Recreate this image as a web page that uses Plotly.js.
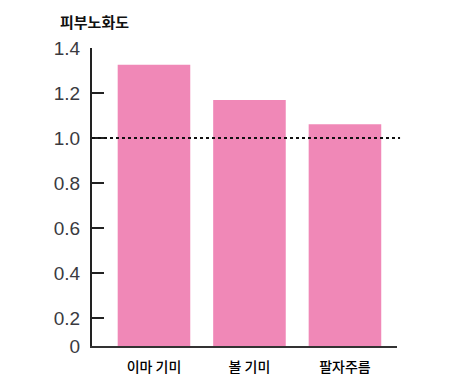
<!DOCTYPE html>
<html><head><meta charset="utf-8">
<script src="https://cdn.plot.ly/plotly-3.0.1.min.js"></script>
<style>html,body{margin:0;padding:0;background:#fff;}#chart{width:460px;height:391px;}</style>
</head><body><div id="chart"></div>
<script>
const categories = ["이마 기미", "볼 기미", "팔자주름"];
const values = [1.326, 1.169, 1.061];
const referenceLevel = 1.0;
const yTickValues = [0.0756, 0.2, 0.4, 0.6, 0.8, 1.0, 1.2, 1.4];
const yTickLabels = ["0", "0.2", "0.4", "0.6", "0.8", "1.0", "1.2", "1.4"];
const yTitle = "피부노화도";

const trace = {
  type: "bar", x: categories, y: values,
  marker: {color: "#f088b7", line: {width: 0}},
  width: 0.76, hoverinfo: "skip"
};
const layout = {
  width: 460, height: 391,
  margin: {l: 92, r: 63, t: 48, b: 45},
  paper_bgcolor: "#fff", plot_bgcolor: "#fff",
  showlegend: false,
  xaxis: {
    type: "category", range: [-0.649, 2.545],
    showline: true, linecolor: "#333", linewidth: 2,
    ticks: "", showgrid: false, zeroline: false,
    tickfont: {family: "Noto Sans CJK KR", size: 14, color: "#000", weight: 500},
    ticklabelstandoff: 7
  },
  yaxis: {
    range: [0.0756, 1.4], showline: true, linecolor: "#222", linewidth: 2,
    tickmode: "array", tickvals: yTickValues, ticktext: yTickLabels,
    ticks: "inside", ticklen: 12, tickwidth: 2, tickcolor: "#222",
    showgrid: false, zeroline: false,
    tickfont: {family: "Liberation Sans Narrow, Liberation Sans", size: 19, color: "#3a3a40"},
    ticklabelstandoff: 6
  },
  shapes: [{
    type: "line", xref: "paper", x0: 0, x1: 1.01, yref: "y", y0: referenceLevel, y1: referenceLevel,
    line: {color: "#111", width: 2, dash: "dot"}
  }],
  annotations: [{
    text: yTitle, xref: "paper", yref: "paper", x: -0.112, y: 1.0, yshift: 27,
    xanchor: "left", yanchor: "middle", showarrow: false,
    font: {family: "Noto Sans CJK KR", size: 15, color: "#111", weight: 700}
  }]
};
Plotly.newPlot("chart", [trace], layout, {displayModeBar: false, staticPlot: true});
</script></body></html>
